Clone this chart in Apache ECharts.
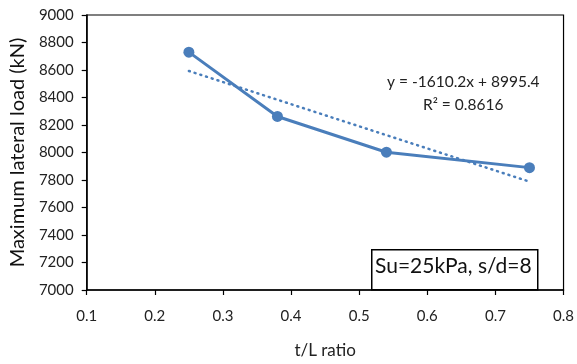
<!DOCTYPE html>
<html>
<head>
<meta charset="utf-8">
<script src="https://cdn.jsdelivr.net/npm/echarts@6/dist/echarts.min.js"></script>
<style>
  html, body { margin: 0; padding: 0; background: #fff; }
  #chart { width: 577px; height: 364px; }
</style>
</head>
<body>
<div id="chart"></div>
<script>
// measured points
const ratios = [0.25, 0.38, 0.54, 0.75];
const loads = [8730, 8262, 8002, 7890];
// linear trendline ends
const trendX = [0.25, 0.75];
const trendY = [8593, 7788];
const equationText = 'y = -1610.2x + 8995.4';
const r2Text = 'R² = 0.8616';
const caseLabel = 'Su=25kPa, s/d=8';

const blue = '#4A7EBB';
const font = 'Lato';

const chart = echarts.init(document.getElementById('chart'));

const option = {
  animation: false,
  textStyle: { fontFamily: font },
  grid: {
    left: 84, right: 13, top: 15, bottom: 74,
    show: true, borderColor: '#000', borderWidth: 1.2
  },
  xAxis: {
    type: 'value',
    min: 0.1, max: 0.8, interval: 0.1,
    name: 't/L ratio',
    nameLocation: 'middle',
    nameGap: 52,
    nameTextStyle: { fontSize: 17, color: '#222', fontFamily: font },
    axisLine: { show: true, onZero: false, lineStyle: { color: '#000', width: 1.5 } },
    axisTick: { show: true, length: 5, lineStyle: { color: '#000', width: 1.2 } },
    axisLabel: { fontSize: 15, color: '#222', margin: 19,
      formatter: v => (Math.round(v * 10) / 10).toString() },
    splitLine: { show: false }
  },
  yAxis: {
    type: 'value',
    min: 7000, max: 9000, interval: 200,
    name: 'Maximum lateral load (kN)',
    nameLocation: 'middle',
    nameGap: 56,
    nameTextStyle: { fontSize: 20, color: '#111', fontFamily: font },
    axisLine: { show: true, lineStyle: { color: '#000', width: 1.5 } },
    axisTick: { show: true, length: 5, lineStyle: { color: '#000', width: 1.2 } },
    axisLabel: { fontSize: 15, color: '#222', margin: 13,
      formatter: v => String(v) },
    splitLine: { show: false }
  },
  series: [
    {
      type: 'line',
      data: ratios.map((x, i) => [x, loads[i]]),
      symbol: 'circle',
      symbolSize: 11,
      lineStyle: { color: blue, width: 3 },
      itemStyle: { color: blue },
      z: 3
    },
    {
      type: 'line',
      data: trendX.map((x, i) => [x, trendY[i]]),
      symbol: 'none',
      lineStyle: { color: blue, width: 2.5, type: [1, 5], cap: 'round' },
      z: 2
    }
  ],
  graphic: [
    {
      type: 'text', left: 387, top: 74,
      style: { text: equationText, fontSize: 15.5, fill: '#222', fontFamily: font }
    },
    {
      type: 'text', left: 423, top: 97,
      style: { text: r2Text, fontSize: 15.5, fill: '#222', fontFamily: font }
    },
    {
      type: 'rect', left: 371, top: 249,
      shape: { width: 166, height: 40 },
      style: { fill: '#fff', stroke: '#000', lineWidth: 1.5 },
      z: 10
    },
    {
      type: 'text', left: 375, top: 256,
      style: { text: caseLabel, fontSize: 21, fill: '#111', fontFamily: font },
      z: 11
    }
  ]
};

chart.setOption(option);
</script>
</body>
</html>
